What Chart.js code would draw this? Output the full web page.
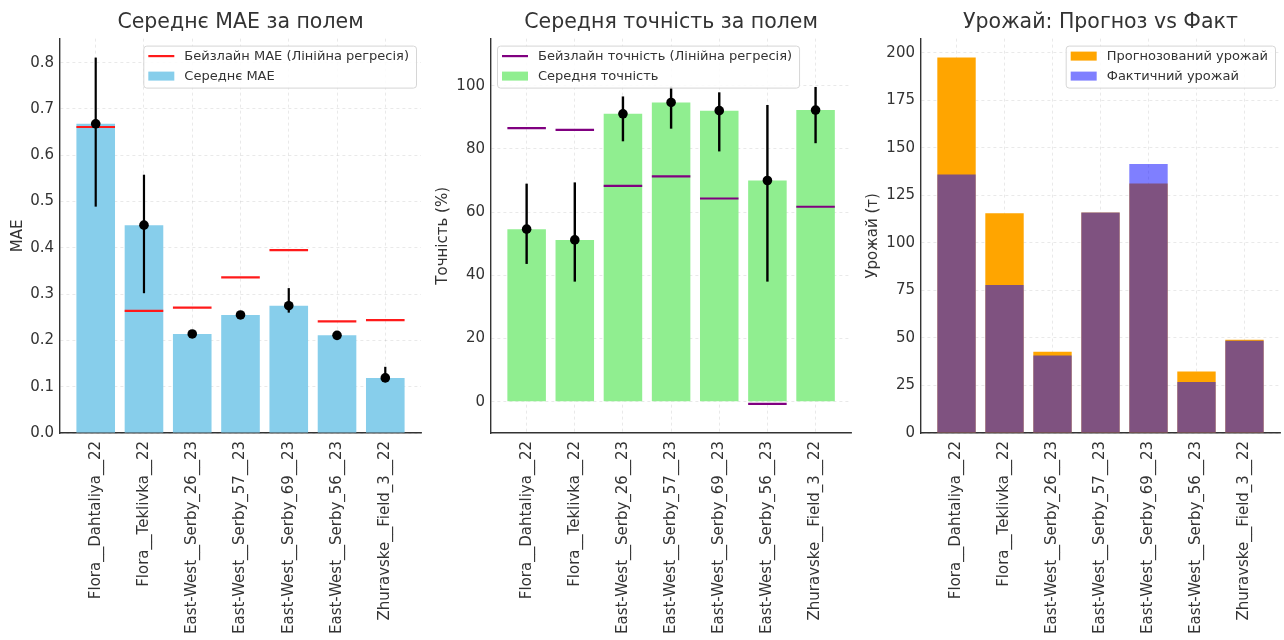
<!DOCTYPE html>
<html>
<head>
<meta charset="utf-8">
<script src="https://cdn.jsdelivr.net/npm/chart.js@4.4.0/dist/chart.umd.min.js"></script>
<style>
html,body{margin:0;padding:0;background:#fff;}
#wrap{position:relative;width:1284px;height:640px;overflow:hidden;}
.p{position:absolute;top:0;width:428px;height:640px;}
</style>
</head>
<body>
<div id="wrap">
  <div class="p" style="left:0px"><canvas id="c1" width="428" height="640"></canvas></div>
  <div class="p" style="left:428px"><canvas id="c2" width="428" height="640"></canvas></div>
  <div class="p" style="left:856px"><canvas id="c3" width="428" height="640"></canvas></div>
</div>
<script>
// ---------- DATA ----------
const fields = ["Flora__Dahtaliya__22", "Flora__Teklivka__22", "East-West__Serby_26__23",
  "East-West__Serby_57__23", "East-West__Serby_69__23", "East-West__Serby_56__23", "Zhuravske__Field_3__22"];

const maeMean     = [0.668, 0.449, 0.214, 0.255, 0.275, 0.211, 0.119];
const maeLow      = [0.489, 0.302, 0.209, 0.250, 0.260, 0.206, 0.110];
const maeHigh     = [0.811, 0.558, 0.219, 0.260, 0.313, 0.216, 0.143];
const maeBaseline = [0.661, 0.264, 0.271, 0.336, 0.395, 0.241, 0.244];

const accMean     = [54.6, 51.2, 91.1, 94.7, 92.1, 70.0, 92.3];
const accLow      = [43.6, 38.0, 82.4, 86.4, 79.2, 38.0, 81.8];
const accHigh     = [69.0, 69.4, 96.6, 99.7, 97.9, 93.9, 99.6];
const accBaseline = [86.6, 86.0, 68.3, 71.3, 64.3, -0.7, 61.7];

const yieldPredicted = [197.4, 115.6, 42.7, 115.9, 131.2, 32.4, 49.0];
const yieldActual    = [135.9, 77.8, 40.8, 115.9, 141.5, 26.8, 48.5];

const maeTicks   = [0.0, 0.1, 0.2, 0.3, 0.4, 0.5, 0.6, 0.7, 0.8];
const accTicks   = [0, 20, 40, 60, 80, 100];
const yieldTicks = [0, 25, 50, 75, 100, 125, 150, 175, 200];

// ---------- HELPERS ----------
const FONT = "'DejaVu Sans', 'Noto Sans', sans-serif";
const TXT = '#333333';
const GRID = 'rgba(0,0,0,0.11)';
const idx = fields.map((_, i) => i);
const pts = arr => arr.map((v, i) => ({x: i, y: v}));

const halfBar = c => {
  const s = c.chart.scales.x;
  return Math.abs(s.getPixelForValue(1) - s.getPixelForValue(0)) * 0.4;
};

const errBarPlugin = {
  id: 'errBars',
  afterDatasetDraw(chart, args, opts) {
    if (!opts || !opts.low || args.index !== opts.after) return;
    const {ctx, scales: {x, y}} = chart;
    ctx.save();
    ctx.strokeStyle = opts.color || '#000';
    ctx.lineWidth = opts.width || 2;
    opts.low.forEach((lo, i) => {
      const px = x.getPixelForValue(i);
      ctx.beginPath();
      ctx.moveTo(px, y.getPixelForValue(lo));
      ctx.lineTo(px, y.getPixelForValue(opts.high[i]));
      ctx.stroke();
    });
    ctx.restore();
  }
};

const boxLegendPlugin = {
  id: 'boxLegend',
  afterDraw(chart, args, opts) {
    if (!opts || !opts.items) return;
    const {ctx, chartArea} = chart;
    ctx.save();
    ctx.font = '13px ' + FONT;
    const tw = Math.max(...opts.items.map(it => ctx.measureText(it.text).width));
    const w = 41 + tw + 7;
    const h = 42;
    const top = chartArea.top + 7;
    const left = opts.align === 'left' ? chartArea.left + 6 : chartArea.right - 5 - w;
    ctx.beginPath();
    if (ctx.roundRect) ctx.roundRect(left + 0.5, top + 0.5, w, h, 3); else ctx.rect(left + 0.5, top + 0.5, w, h);
    ctx.fillStyle = 'rgba(255,255,255,0.85)';
    ctx.fill();
    ctx.strokeStyle = '#d6d6d6';
    ctx.lineWidth = 1;
    ctx.stroke();
    opts.items.forEach((it, k) => {
      const cy = top + 10.5 + k * 20;
      if (it.type === 'line') {
        ctx.strokeStyle = it.color;
        ctx.lineWidth = 2.2;
        ctx.beginPath();
        ctx.moveTo(left + 5, cy);
        ctx.lineTo(left + 31, cy);
        ctx.stroke();
      } else {
        ctx.fillStyle = it.color;
        ctx.fillRect(left + 5, cy - 4.5, 26, 9);
      }
      ctx.fillStyle = TXT;
      ctx.textBaseline = 'middle';
      ctx.textAlign = 'left';
      ctx.fillText(it.text, left + 41, cy + 0.5);
    });
    ctx.restore();
  }
};

function makeChart(id, cfg) {
  const xScale = {
    type: 'linear',
    min: -0.74, max: 6.74, bounds: 'data', offset: false,
    afterBuildTicks: s => { s.ticks = idx.map(v => ({value: v})); },
    afterFit: s => { s.height = 207; },
    grid: {color: GRID, lineWidth: 0.8, drawTicks: false, offset: false},
    border: {display: true, color: '#333', width: 1.4, dash: [3, 3]},
    ticks: {
      autoSkip: false, maxRotation: 90, minRotation: 90, padding: 8,
      color: TXT, font: {family: FONT, size: 15},
      callback: v => fields[v]
    }
  };
  const yScale = {
    type: 'linear',
    min: cfg.yMin, max: cfg.yMax, bounds: 'data',
    afterBuildTicks: s => { s.ticks = cfg.yTicks.map(v => ({value: v})); },
    afterFit: s => { s.width = cfg.yWidth; },
    grid: {color: GRID, lineWidth: 0.8, drawTicks: false},
    border: {display: true, color: '#333', width: 1.4, dash: [3, 3]},
    ticks: {padding: 6, color: TXT, font: {family: FONT, size: 15}, callback: cfg.yFmt},
    title: {display: true, text: cfg.yTitle, color: TXT, font: {family: FONT, size: 15},
            padding: {top: cfg.yTitlePad, bottom: cfg.yTitlePad}}
  };
  return new Chart(document.getElementById(id), {
    type: 'bar',
    data: {datasets: cfg.datasets},
    options: {
      responsive: false,
      animation: false,
      events: [],
      layout: {padding: {left: 0, right: cfg.padRight, top: 0, bottom: 0}},
      scales: {x: xScale, y: yScale},
      plugins: {
        legend: {display: false},
        tooltip: {enabled: false},
        title: {display: true, fullSize: false, text: cfg.title, color: TXT,
                font: {family: FONT, size: 20.5, weight: 'normal'},
                padding: {top: 10, bottom: 4}},
        errBars: cfg.err || {},
        boxLegend: cfg.legend
      }
    },
    plugins: [errBarPlugin, boxLegendPlugin]
  });
}

const barOpts = {categoryPercentage: 1, barPercentage: 0.8, grouped: false, borderWidth: 0};
const baseOpts = color => ({
  type: 'line', showLine: false, pointStyle: 'line', pointRadius: halfBar,
  pointBorderColor: color, borderColor: color, pointBorderWidth: 2.2, backgroundColor: color
});
const dotOpts = {type: 'line', showLine: false, pointStyle: 'circle', pointRadius: 4.8,
  pointBackgroundColor: '#000', pointBorderColor: '#000', pointBorderWidth: 0, borderColor: '#000'};

// ---------- CHART 1 ----------
makeChart('c1', {
  title: 'Середнє MAE за полем', yTitle: 'MAE', yTitlePad: 9,
  yMin: 0, yMax: 0.852, yTicks: maeTicks, yFmt: v => v.toFixed(1), yWidth: 60, padRight: 7,
  datasets: [
    Object.assign({label: 'Середнє MAE', data: pts(maeMean), backgroundColor: '#87CEEB', order: 3}, barOpts),
    Object.assign({label: 'Бейзлайн MAE (Лінійна регресія)', data: pts(maeBaseline), order: 2}, baseOpts('#ff1a1a')),
    Object.assign({label: 'mean', data: pts(maeMean), order: 1}, dotOpts)
  ],
  err: {after: 1, low: maeLow, high: maeHigh, color: '#000', width: 2.2},
  legend: {align: 'right', items: [
    {type: 'line', color: '#ff1a1a', text: 'Бейзлайн MAE (Лінійна регресія)'},
    {type: 'box', color: '#87CEEB', text: 'Середнє MAE'}
  ]}
});

// ---------- CHART 2 ----------
makeChart('c2', {
  title: 'Середня точність за полем', yTitle: 'Точність (%)', yTitlePad: 6,
  yMin: -9.9, yMax: 114.9, yTicks: accTicks, yFmt: v => String(v), yWidth: 63, padRight: 4,
  datasets: [
    Object.assign({label: 'Середня точність', data: pts(accMean), backgroundColor: '#90EE90', order: 3}, barOpts),
    Object.assign({label: 'Бейзлайн точність (Лінійна регресія)', data: pts(accBaseline), order: 2}, baseOpts('#800080')),
    Object.assign({label: 'mean', data: pts(accMean), order: 1}, dotOpts)
  ],
  err: {after: 1, low: accLow, high: accHigh, color: '#000', width: 2.4},
  legend: {align: 'left', items: [
    {type: 'line', color: '#800080', text: 'Бейзлайн точність (Лінійна регресія)'},
    {type: 'box', color: '#90EE90', text: 'Середня точність'}
  ]}
});

// ---------- CHART 3 ----------
makeChart('c3', {
  title: 'Урожай: Прогноз vs Факт', yTitle: 'Урожай (т)', yTitlePad: 8,
  yMin: 0, yMax: 207.4, yTicks: yieldTicks, yFmt: v => String(v), yWidth: 65, padRight: 4,
  datasets: [
    Object.assign({label: 'Прогнозований урожай', data: pts(yieldPredicted), backgroundColor: '#FFA500', order: 2}, barOpts),
    Object.assign({label: 'Фактичний урожай', data: pts(yieldActual), backgroundColor: 'rgba(0,0,255,0.5)', order: 1}, barOpts)
  ],
  legend: {align: 'right', items: [
    {type: 'box', color: '#FFA500', text: 'Прогнозований урожай'},
    {type: 'box', color: 'rgba(0,0,255,0.5)', text: 'Фактичний урожай'}
  ]}
});
</script>
</body>
</html>
